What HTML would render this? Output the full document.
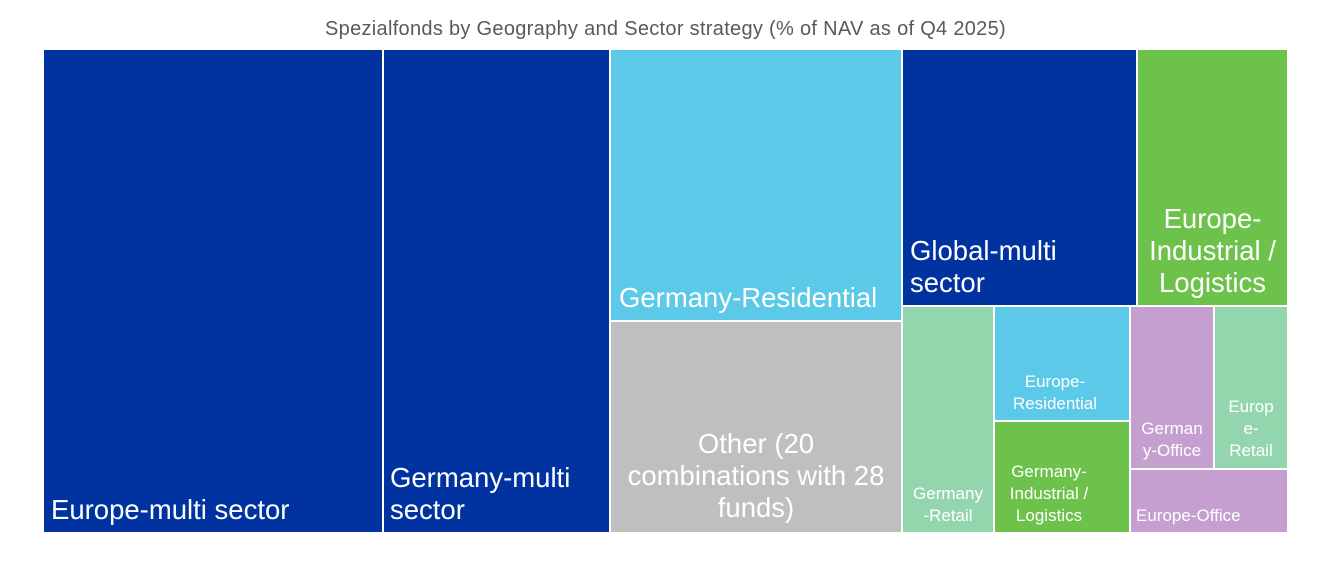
<!DOCTYPE html>
<html><head><meta charset="utf-8"><style>
body{margin:0;width:1331px;height:564px;background:#fff;position:relative;overflow:hidden;font-family:"Liberation Sans",sans-serif;}
.r{position:absolute;}
.t{position:absolute;color:#fff;white-space:nowrap;line-height:1.17;}
.b{font-size:27.5px}
.s{font-size:17px;text-align:center;line-height:1.28}
.c{text-align:center}
</style></head><body>
<div class="t" style="left:0;width:1331px;top:18px;color:#595959;font-size:20px;text-align:center;letter-spacing:0.3px;">Spezialfonds by Geography and Sector strategy (% of NAV as of Q4 2025)</div>

<div class="r" style="left:44px;top:50px;width:338px;height:482px;background:#0033A0"></div>
<div class="r" style="left:384px;top:50px;width:225px;height:482px;background:#0033A0"></div>
<div class="r" style="left:611px;top:50px;width:290px;height:270px;background:#5BC9E7"></div>
<div class="r" style="left:611px;top:322px;width:290px;height:210px;background:#BFBFBF"></div>
<div class="r" style="left:903px;top:50px;width:233px;height:255px;background:#0033A0"></div>
<div class="r" style="left:1138px;top:50px;width:149px;height:255px;background:#6CC24A"></div>
<div class="r" style="left:903px;top:307px;width:90px;height:225px;background:#93D6AE"></div>
<div class="r" style="left:995px;top:307px;width:134px;height:113px;background:#5BC9E7"></div>
<div class="r" style="left:995px;top:422px;width:134px;height:110px;background:#6CC24A"></div>
<div class="r" style="left:1131px;top:307px;width:82px;height:161px;background:#C59FD0"></div>
<div class="r" style="left:1215px;top:307px;width:72px;height:161px;background:#93D6AE"></div>
<div class="r" style="left:1131px;top:470px;width:156px;height:62px;background:#C59FD0"></div>

<div class="t b" style="left:51px;top:494px;">Europe-multi sector</div>
<div class="t b" style="left:390px;top:462px;">Germany-multi<br>sector</div>
<div class="t b" style="left:619px;top:282px;">Germany-Residential</div>
<div class="t b c" style="left:611px;width:290px;top:428px;">Other (20<br>combinations with 28<br>funds)</div>
<div class="t b" style="left:910px;top:235px;">Global-multi<br>sector</div>
<div class="t b c" style="left:1138px;width:149px;top:203px;">Europe-<br>Industrial /<br>Logistics</div>
<div class="t s" style="left:903px;width:90px;top:483px;">Germany<br>-Retail</div>
<div class="t s" style="left:995px;width:120px;top:371px;">Europe-<br>Residential</div>
<div class="t s" style="left:995px;width:108px;top:461px;">Germany-<br>Industrial /<br>Logistics</div>
<div class="t s" style="left:1131px;width:82px;top:418px;">German<br>y-Office</div>
<div class="t s" style="left:1215px;width:72px;top:396px;">Europ<br>e-<br>Retail</div>
<div class="t s" style="left:1136px;top:505px;text-align:left;">Europe-Office</div>
</body></html>
